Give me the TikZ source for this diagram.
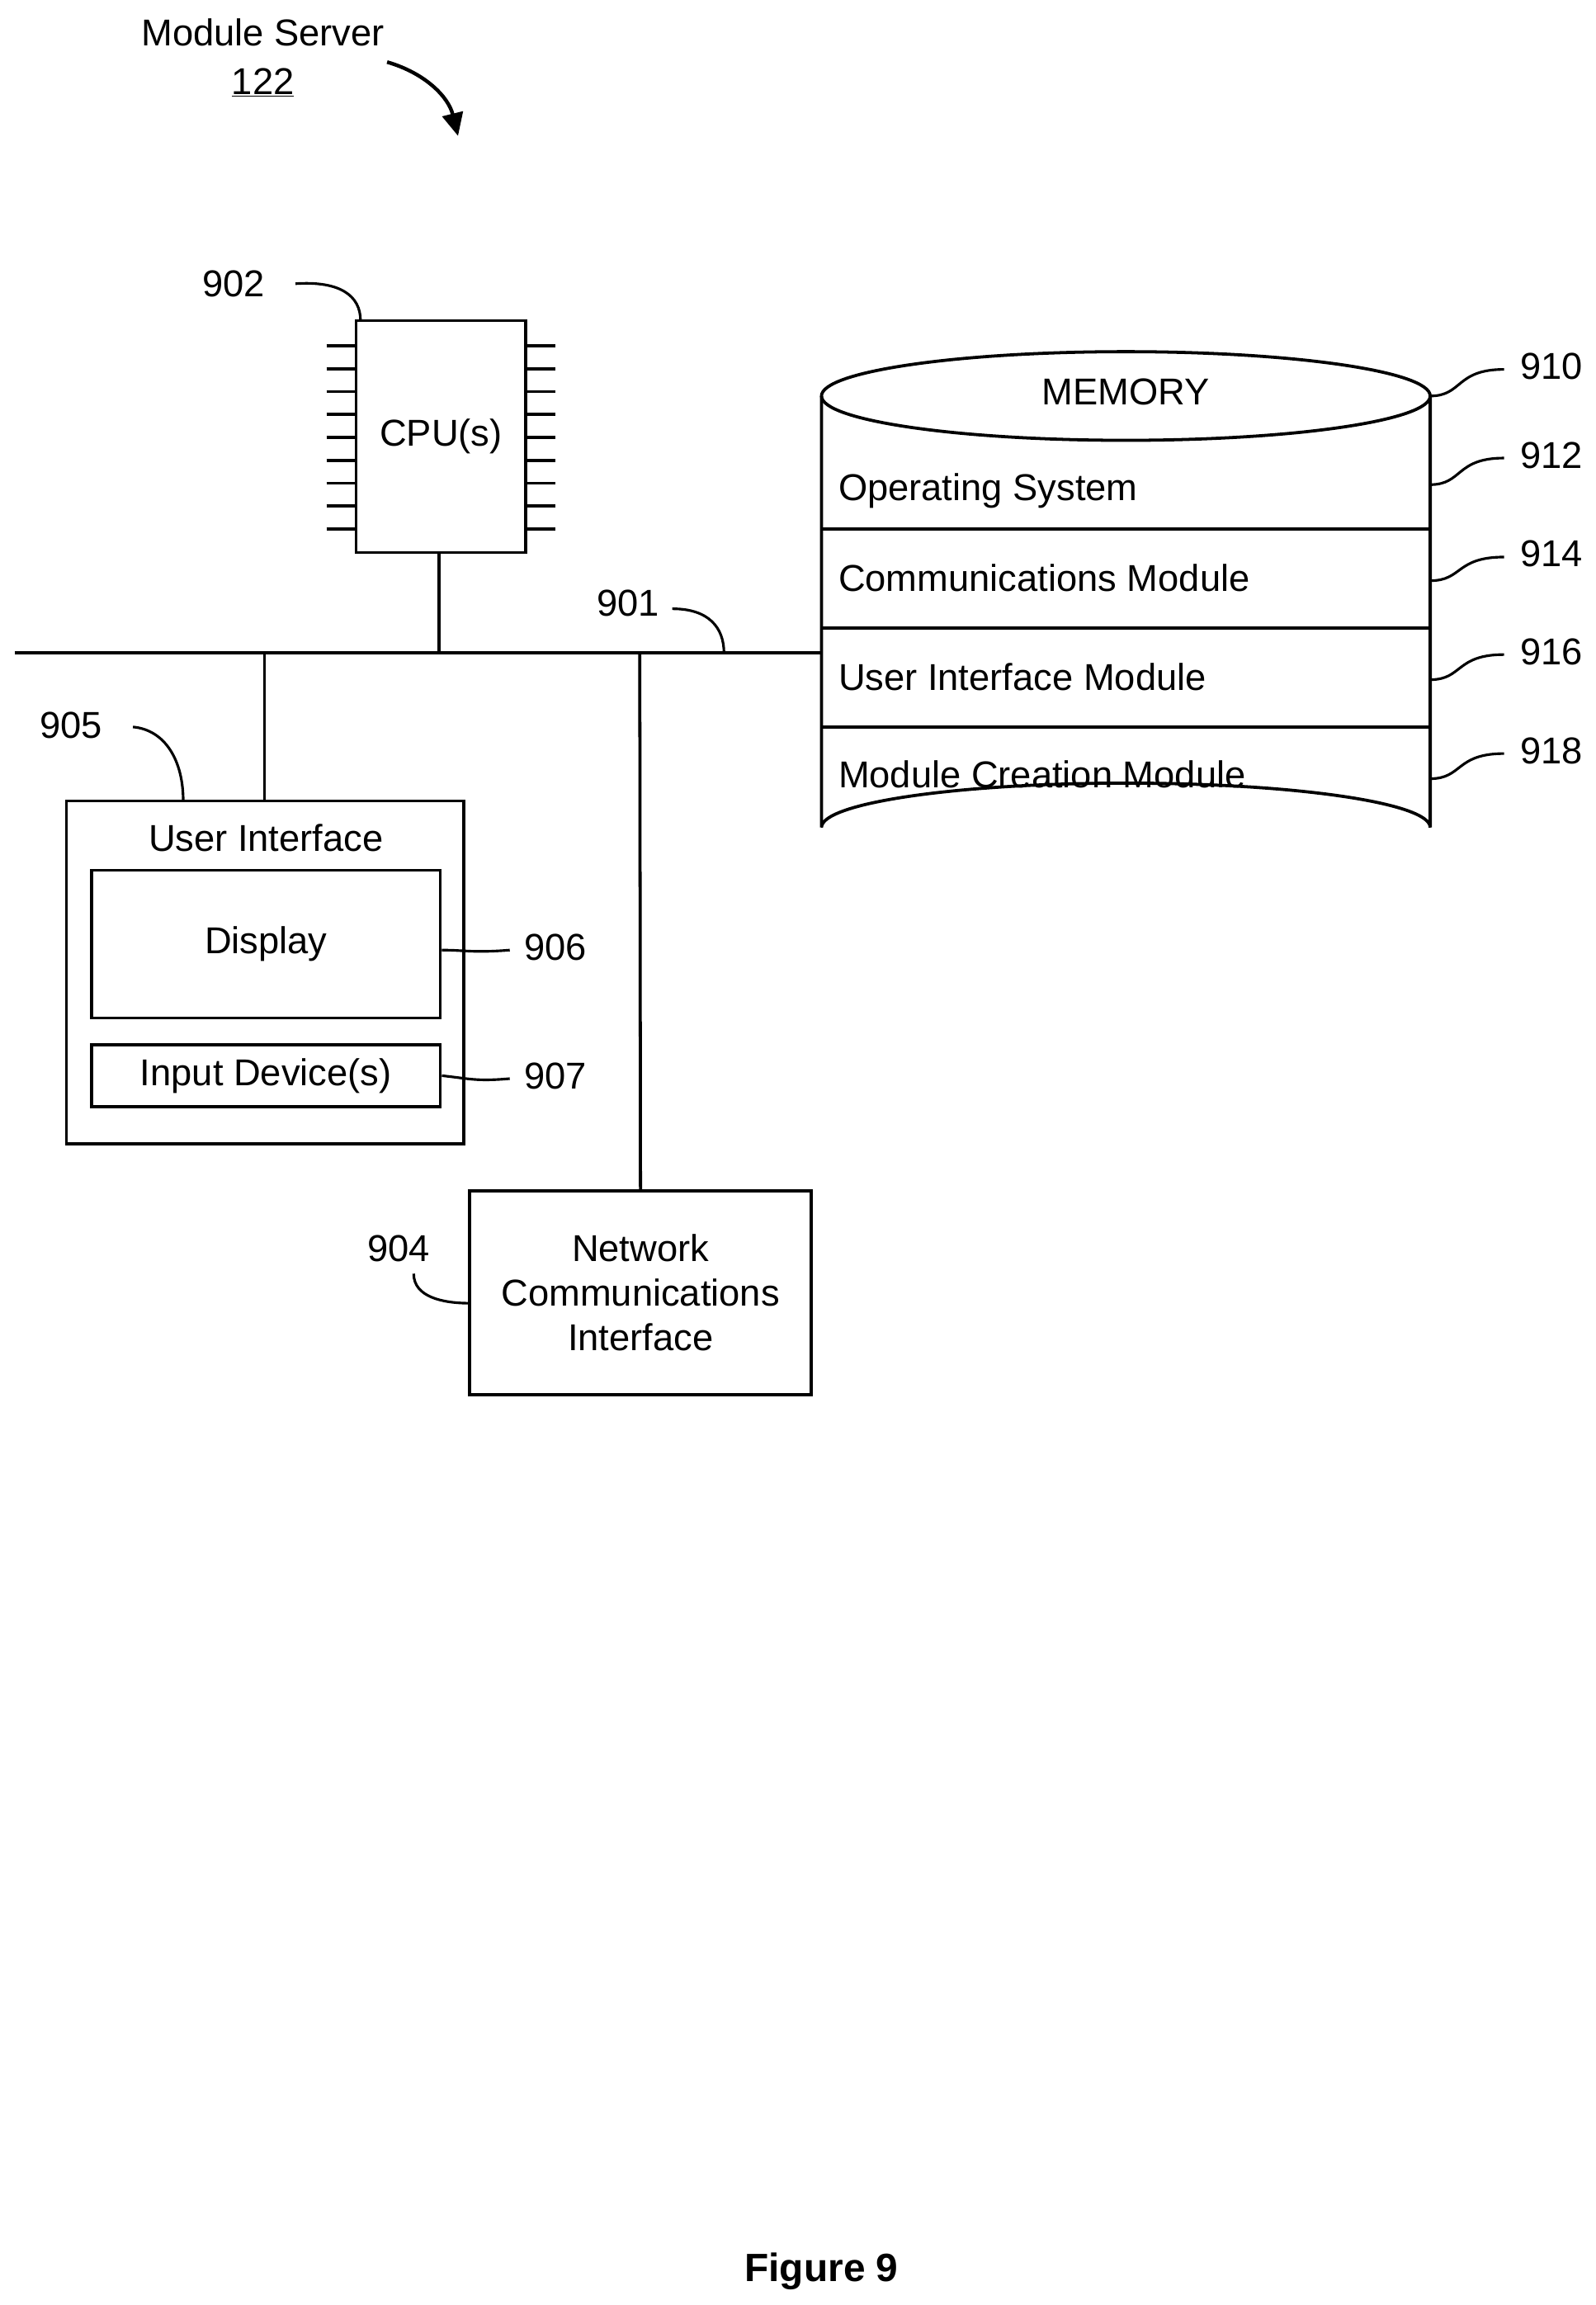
\documentclass[tikz,border=0pt]{standalone}
\usepackage{fontspec}
\setmainfont{Liberation Sans}
\usetikzlibrary{arrows.meta}
\begin{document}
\begin{tikzpicture}[x=0.05cm,y=-0.05cm,
  every node/.style={font=\fontsize{36}{43}\selectfont},
  ln/.style={line width=3pt},
  box/.style={draw,line width=3pt,inner sep=0pt},
  lead/.style={line width=2.5pt}]
\useasboundingbox[fill=white] (0,0) rectangle (1080,1560);
% title
\node (ms) at (178,22) {Module Server};
\node (n122) at (178,56) {\underline{122}};
\coordinate (a1) at (262,42);
\coordinate (a2) at (310,92);
\draw[line width=3.5pt,-{Triangle[length=22pt,width=20pt]}] (a1) to[bend left=30] (a2);
% CPU
\node[box,minimum width=0.05cm*115,minimum height=0.05cm*157] (cpu) at (298.5,295.5) {CPU(s)};
\foreach \i in {0,...,8}{
  \draw[ln] (221,234+\i*15.5) -- (241,234+\i*15.5);
  \draw[ln] (356,234+\i*15.5) -- (376,234+\i*15.5);
}
\node (l902) at (158,192) {902};
\draw[lead] (200,192) .. controls (230,190) and (244,200) .. (244,217);
% bus
\coordinate (b0) at (10,442);
\coordinate (b1) at (556,442);
\draw[ln] (b0) -- (b1);
\coordinate (bc) at (297,442);
\coordinate (bu) at (179,442);
\coordinate (bn) at (433,442);
\draw[ln] (cpu.south -| bc) -- (bc);
\node (l901) at (425,408) {901};
\draw[lead] (455,412) .. controls (480,412) and (490,425) .. (490,442);
% memory
\draw[ln] (556,268) -- (556,560) arc[start angle=180,end angle=360,x radius=206,y radius=30] -- (968,268);
\draw[ln] (762,268) ellipse[x radius=206,y radius=30];
\foreach \y in {358,425,492} \draw[ln] (556,\y) -- (968,\y);
\node (mem) at (762,265) {MEMORY};
\node[anchor=west] (os) at (565,332) {Operating System};
\node[anchor=west] (cm) at (565,391) {Communications Module};
\node[anchor=west] (uim) at (565,458) {User Interface Module};
\node[anchor=west] (mcm) at (565,524) {Module Creation Module};
\foreach \t/\y/\ly in {910/268/248,912/328/308,914/393/375,916/460/441,918/527/508}{
  \node (l\t) at (1050,\ly) {\t};
  \draw[lead] (968,\y) .. controls (990,\y) and (985,\ly+2) .. (1018,\ly+2);
}
% UI
\node[box,minimum width=0.05cm*269,minimum height=0.05cm*232] (ui) at (179.5,658) {};
\node (uit) at (180,567) {User Interface};
\node[box,minimum width=0.05cm*236,minimum height=0.05cm*100] (disp) at (180,639) {Display};
\node[box,minimum width=0.05cm*236,minimum height=0.05cm*42] (inp) at (180,728) {Input Device(s)};
\draw[ln] (bu) -- (bu |- ui.north);
\node (l905) at (48,491) {905};
\draw[lead] (90,492) .. controls (112,494) and (124,515) .. (124,542);
\node (l906) at (376,641) {906};
\draw[lead] (disp.east |- 0,643) .. controls (315,643) and (320,645) .. (345,643);
\node (l907) at (376,728) {907};
\draw[lead] (inp.east) .. controls (318,730) and (322,732) .. (345,730);
% network
\node[box,minimum width=0.05cm*231,minimum height=0.05cm*138,align=center] (net) at (433.5,875) {Network\\Communications\\Interface};
\draw[ln] (bn) -- (net.north);
\node (l904) at (270,845) {904};
\draw[lead] (280,862) .. controls (280,878) and (300,882) .. (318,882);
\node[font=\fontsize{38}{44}\selectfont\bfseries] (fig) at (556,1537) {Figure 9};
\end{tikzpicture}
\end{document}
